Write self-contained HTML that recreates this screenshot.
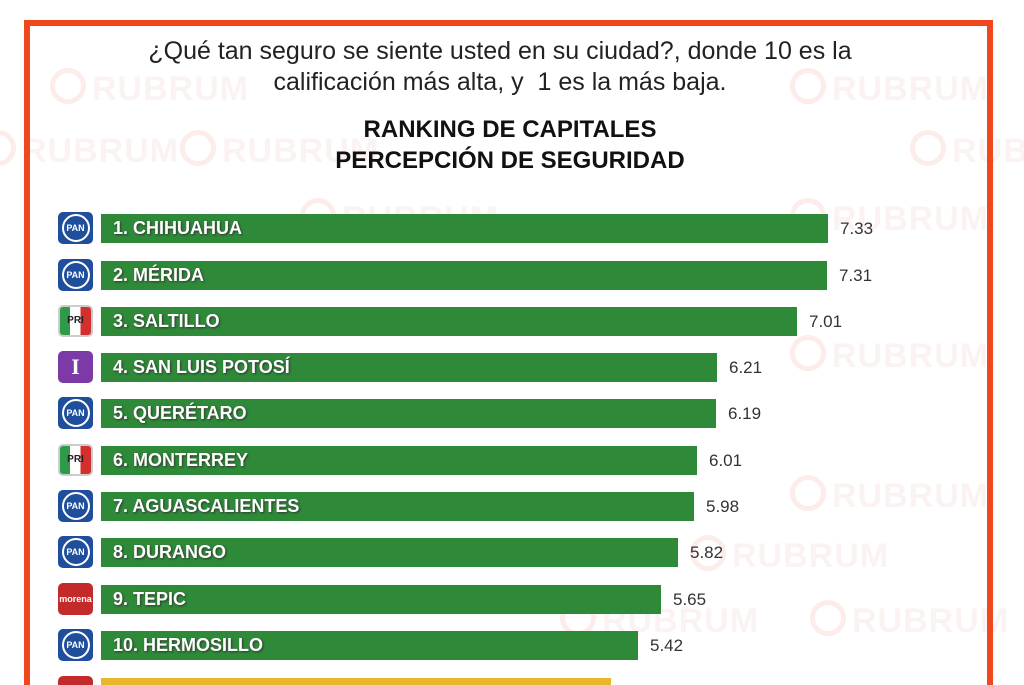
<!DOCTYPE html>
<html><head><meta charset="utf-8"><style>
html,body{margin:0;width:1024px;height:685px;overflow:hidden}
body{background:#fff;position:relative;font-family:"Liberation Sans",sans-serif}
.frame{position:absolute;left:24px;top:20px;width:957px;height:659px;border:6px solid #f0471c;border-bottom:none}
.wm{position:absolute;font-size:34px;font-weight:bold;color:#fbf3f2;letter-spacing:1px;white-space:nowrap}
.wm:before{content:"";display:inline-block;width:26px;height:26px;border:5px solid #fcecea;border-radius:50%;margin-right:6px;vertical-align:-4px}
.q{position:absolute;left:40px;width:920px;text-align:center;font-size:25px;color:#222;line-height:31px;top:36px;white-space:nowrap}
.t{position:absolute;left:210px;width:600px;text-align:center;font-size:24px;font-weight:bold;color:#111;line-height:31px;top:114px}
.bar{position:absolute;left:101px;height:29px;background:#2e8a38;color:#fff;font-weight:bold;font-size:18px;line-height:29px;padding-left:12px;box-sizing:border-box;text-shadow:1px 1px 2px #333;white-space:nowrap}
.v{position:absolute;font-size:17px;color:#333;line-height:29px}
.ic{position:absolute;left:58px;width:35px;height:32px;border-radius:5px;color:#fff;font-size:10px;font-weight:bold;text-align:center;line-height:32px}
.pan{background:#1f4e9c}
.pan span{display:inline-block;width:24px;height:24px;border:2px solid #fff;border-radius:50%;line-height:24px;margin-top:2px;font-size:9px}
.pri{background:linear-gradient(90deg,#2f9a4a 0 33%,#fff 33% 66%,#d32f2f 66%);color:#222;border:2px solid #ccc;box-sizing:border-box;line-height:28px}
.ind{background:#7b3aa5;font-size:22px;font-family:"Liberation Serif",serif}
.mor{background:#c52a2a;font-size:9px}
</style></head><body>
<div class="wm" style="left:50px;top:68px">RUBRUM</div>
<div class="wm" style="left:790px;top:68px">RUBRUM</div>
<div class="wm" style="left:-20px;top:130px">RUBRUM</div>
<div class="wm" style="left:180px;top:130px">RUBRUM</div>
<div class="wm" style="left:910px;top:130px">RUBRUM</div>
<div class="wm" style="left:300px;top:198px">RUBRUM</div>
<div class="wm" style="left:790px;top:198px">RUBRUM</div>
<div class="wm" style="left:790px;top:335px">RUBRUM</div>
<div class="wm" style="left:790px;top:475px">RUBRUM</div>
<div class="wm" style="left:690px;top:535px">RUBRUM</div>
<div class="wm" style="left:810px;top:600px">RUBRUM</div>
<div class="wm" style="left:560px;top:600px">RUBRUM</div>
<div class="frame"></div>
<div class="q">¿Qué tan seguro se siente usted en su ciudad?, donde 10 es la<br>calificación más alta, y &nbsp;1 es la más baja.</div>
<div class="t">RANKING DE CAPITALES<br>PERCEPCIÓN DE SEGURIDAD</div>

<div class="ic pan" style="top:212px"><span>PAN</span></div>
<div class="bar" style="top:214px;width:727px">1. CHIHUAHUA</div><div class="v" style="top:214px;left:840px">7.33</div>
<div class="ic pan" style="top:259px"><span>PAN</span></div>
<div class="bar" style="top:261px;width:726px">2. MÉRIDA</div><div class="v" style="top:261px;left:839px">7.31</div>
<div class="ic pri" style="top:305px">PRI</div>
<div class="bar" style="top:307px;width:696px">3. SALTILLO</div><div class="v" style="top:307px;left:809px">7.01</div>
<div class="ic ind" style="top:351px">I</div>
<div class="bar" style="top:353px;width:616px">4. SAN LUIS POTOSÍ</div><div class="v" style="top:353px;left:729px">6.21</div>
<div class="ic pan" style="top:397px"><span>PAN</span></div>
<div class="bar" style="top:399px;width:615px">5. QUERÉTARO</div><div class="v" style="top:399px;left:728px">6.19</div>
<div class="ic pri" style="top:444px">PRI</div>
<div class="bar" style="top:446px;width:596px">6. MONTERREY</div><div class="v" style="top:446px;left:709px">6.01</div>
<div class="ic pan" style="top:490px"><span>PAN</span></div>
<div class="bar" style="top:492px;width:593px">7. AGUASCALIENTES</div><div class="v" style="top:492px;left:706px">5.98</div>
<div class="ic pan" style="top:536px"><span>PAN</span></div>
<div class="bar" style="top:538px;width:577px">8. DURANGO</div><div class="v" style="top:538px;left:690px">5.82</div>
<div class="ic mor" style="top:583px">morena</div>
<div class="bar" style="top:585px;width:560px">9. TEPIC</div><div class="v" style="top:585px;left:673px">5.65</div>
<div class="ic pan" style="top:629px"><span>PAN</span></div>
<div class="bar" style="top:631px;width:537px">10. HERMOSILLO</div><div class="v" style="top:631px;left:650px">5.42</div>
<div class="ic mor" style="top:676px;height:9px;border-radius:5px 5px 0 0"></div>
<div class="bar" style="top:678px;height:7px;width:510px;background:#e8b82a"></div>
</body></html>
